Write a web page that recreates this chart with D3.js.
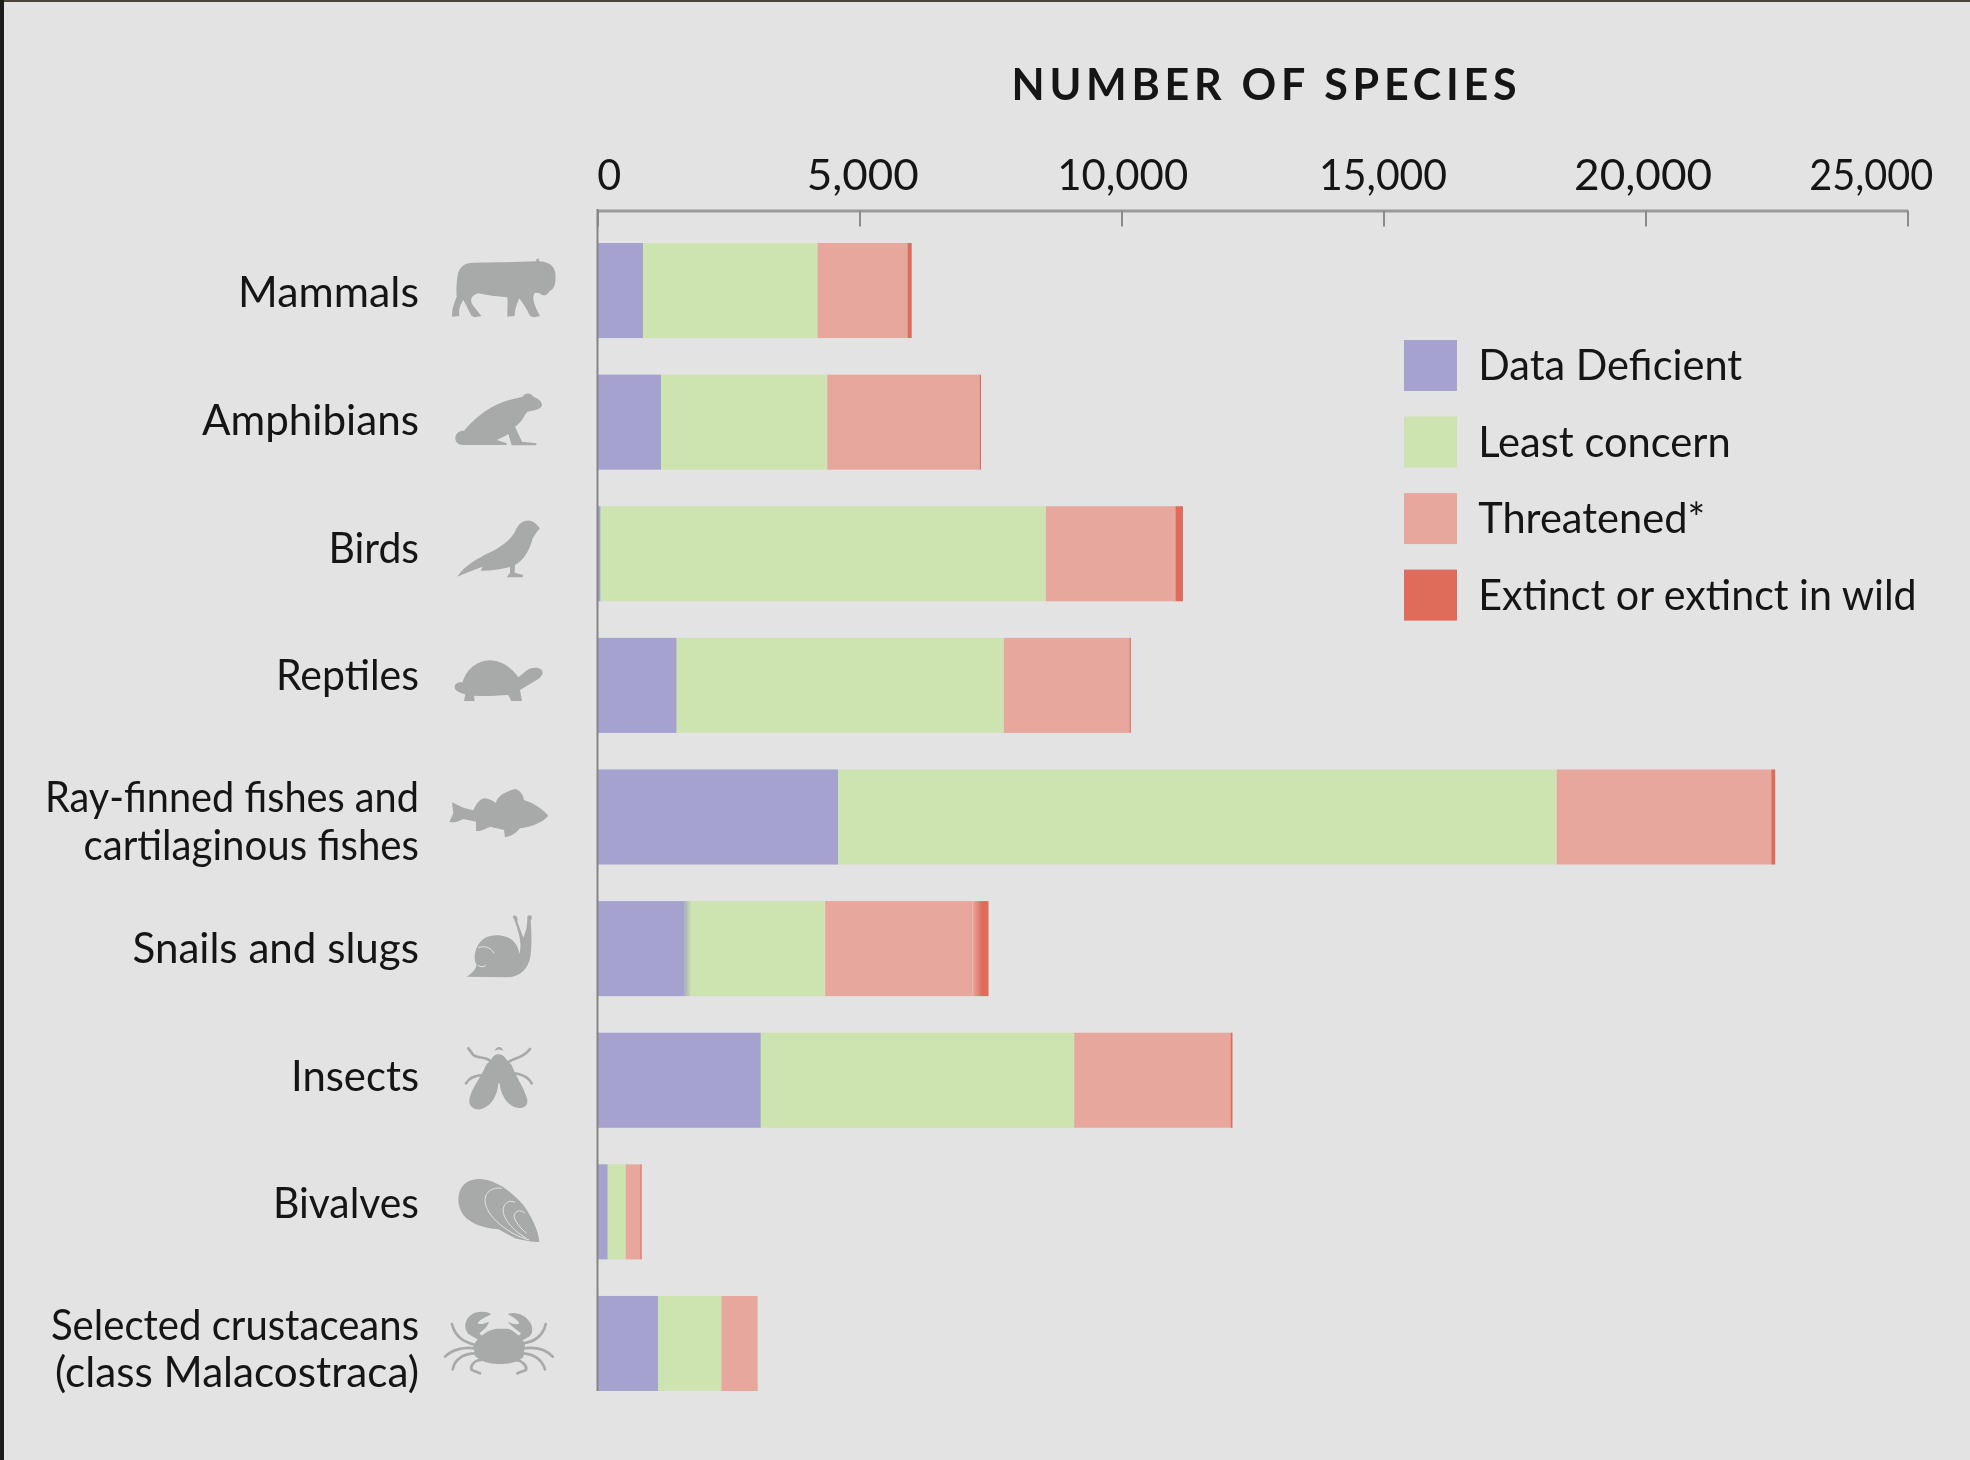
<!DOCTYPE html>
<html><head><meta charset="utf-8">
<script src="https://cdnjs.cloudflare.com/ajax/libs/d3/7.8.5/d3.min.js"></script>
<style>
html,body{margin:0;padding:0;background:#e3e3e3;}
svg{display:block;position:absolute;left:0;top:0;}
text{font-family:Lato,sans-serif;fill:#151515;}
</style></head><body>
<svg id="c" width="1970" height="1460"></svg>
<script>
const categories=["Mammals","Amphibians","Birds","Reptiles","Ray-finned fishes and cartilaginous fishes","Snails and slugs","Insects","Bivalves","Selected crustaceans (class Malacostraca)"];
const labelLines=[["Mammals"],["Amphibians"],["Birds"],["Reptiles"],["Ray-finned fishes and","cartilaginous fishes"],["Snails and slugs"],["Insects"],["Bivalves"],["Selected crustaceans","(class Malacostraca)"]];
const dataDeficient=[868,1215,60,1511,4590,1655,3117,196,1157];
const leastConcern=[3332,3170,8496,6243,13715,2690,5981,341,1208];
const threatened=[1716,2907,2474,2399,4095,2813,2984,280,681];
const extinct=[80,26,143,25,75,304,36,25,5];
const seriesNames=["Data Deficient","Least concern","Threatened*","Extinct or extinct in wild"];
const seriesColors=["#a5a2d0","#cde3b0","#e8a79d","#df6b5a"];
const tickValues=[0,5000,10000,15000,20000,25000];

const svg=d3.select("#c");
const defs=svg.append("defs");
const g1=defs.append("linearGradient").attr("id","lcEdge");
g1.append("stop").attr("offset",0).attr("stop-color","#a9aabb");
g1.append("stop").attr("offset",0.05).attr("stop-color",seriesColors[1]);
const g2=defs.append("linearGradient").attr("id","exEdge");
g2.append("stop").attr("offset",0).attr("stop-color",seriesColors[2]);
g2.append("stop").attr("offset",0.6).attr("stop-color",seriesColors[3]);
svg.append("rect").attr("width",1970).attr("height",2).attr("fill","#4a443f");
svg.append("rect").attr("width",4).attr("height",1460).attr("fill","#1c1c1c");
const g=svg.append("g").style("filter","blur(0.6px)");

const x=d3.scaleLinear().domain([0,25000]).range([597.5,1907.5]);
const y=d3.scaleBand().domain(categories).range([243,1391]).paddingInner(0.278).paddingOuter(0);

const rows=categories.map((c,i)=>({c,a:dataDeficient[i],b:leastConcern[i],t:threatened[i],e:extinct[i]}));
const stack=d3.stack().keys(["a","b","t","e"])(rows);
const snail=categories[5];
g.selectAll("g.s").data(stack).join("g").attr("class","s").attr("fill",(d,i)=>seriesColors[i])
 .selectAll("rect").data(d=>d.map(v=>Object.assign(v,{key:d.key}))).join("rect")
 .attr("x",d=>x(d[0])).attr("width",d=>x(d[1])-x(d[0]))
 .attr("y",d=>y(d.data.c)).attr("height",y.bandwidth())
 .attr("fill",d=>d.data.c===snail&&d.key==="b"?"url(#lcEdge)":d.data.c===snail&&d.key==="e"?"url(#exEdge)":null);

// axis
const ax=g.append("g").attr("transform","translate(0,210.5)")
 .call(d3.axisTop(x).tickValues(tickValues).tickFormat(d3.format(",")).tickSizeOuter(0));
ax.select(".domain").attr("stroke","#9a9a9a").attr("stroke-width",3);
ax.selectAll(".tick line").attr("y2",16).attr("stroke","#8a8a8a").attr("stroke-width",2);
const tickDx={0:11.2,5000:2.7,10000:0.7,15000:-0.9,20000:-2.9,25000:-36.7};
const tickW={0:24,5000:112,10000:131,15000:128,20000:138,25000:124};
ax.selectAll(".tick text").attr("y",-21).attr("dy",0).attr("dx",d=>tickDx[d])
 .attr("font-family","Lato,sans-serif").attr("font-size",42).attr("fill","#151515")
 .attr("textLength",d=>tickW[d]).attr("lengthAdjust","spacingAndGlyphs");
g.append("line").attr("x1",x(0)).attr("x2",x(0)).attr("y1",209).attr("y2",1391).attr("stroke","#858585").attr("stroke-width",2);

g.append("text").attr("x",1264).attr("y",100).attr("text-anchor","middle").attr("font-size",43).attr("font-weight",700)
 .attr("textLength",505).attr("lengthAdjust","spacing").text("NUMBER OF SPECIES");

// category labels
const baselines=[[307.2],[434.7],[562.7],[689.7],[812.2,859.7],[962.7],[1090.7],[1218.2],[1340.2,1386.7]];
const labelWidths=[[181],[217],[90.5],[143],[374,335.5],[286.5],[128],[146],[368,364]];
g.selectAll("text.cat").data(labelLines.flatMap((l,i)=>l.map((t,j)=>({t,b:baselines[i][j],w:labelWidths[i][j]})))).join("text").attr("class","cat")
 .attr("x",419).attr("y",d=>d.b).attr("text-anchor","end").attr("font-size",42)
 .attr("textLength",d=>d.w).attr("lengthAdjust","spacingAndGlyphs").text(d=>d.t);

// legend
const legendWidths=[264,252.5,227,438.5];
const lg=d3.scalePoint().domain(seriesNames).range([340,569.6]);
const L=g.selectAll("g.l").data(seriesNames).join("g").attr("class","l").attr("transform",d=>`translate(1404,${lg(d)})`);
L.append("rect").attr("width",53).attr("height",51).attr("fill",(d,i)=>seriesColors[i]);
L.append("text").attr("x",74.2).attr("y",40).attr("font-size",42)
 .attr("textLength",(d,i)=>legendWidths[i]).attr("lengthAdjust","spacingAndGlyphs").text(d=>d);

// icons (silhouettes, drawn in crop coordinates at 3x)
const iconFill="#a8a9a9", bg="#e3e3e3";
const icons=[
 {o:[430,240],f:["M66 226C66 205 72 190 80 170C78 150 80 120 84 100C90 80 105 68 130 68C190 68 260 66 318 64L320 56L326 56L328 64C350 66 372 72 376 100C378 125 376 145 360 152C350 168 338 170 330 160L315 158C305 170 310 190 330 228L312 232L300 228C290 205 278 190 268 175C262 190 254 205 254 228L232 230C232 205 234 185 232 172C200 170 170 166 145 160C125 165 118 180 128 195L154 228L135 232L125 228C115 210 108 195 100 180C90 195 85 210 88 228L66 230Z"]},
 {o:[440,380],f:["M46 175C46 160 58 152 72 152C100 120 140 85 180 70C205 58 230 55 248 50C255 38 270 38 278 48C290 55 306 62 306 75C305 88 280 92 262 95C252 105 248 125 225 140L246 185L290 190L288 196L215 196L205 162C195 170 180 175 170 180L200 190L200 195L70 195C55 195 46 188 46 175Z"]},
 {o:[440,510],f:["M52 200C70 170 110 145 160 122C190 105 210 90 225 65C235 40 250 30 270 32C285 35 295 48 300 55C290 65 285 75 278 85C270 115 255 150 225 165L224 188L250 195L248 202L200 202L210 188L210 170C185 178 150 182 122 182L128 170C100 180 75 190 52 200Z"]},
 {o:[440,645],f:["M44 125C45 115 55 110 68 112C75 85 100 48 150 46C190 46 220 75 235 97L262 75C275 68 295 65 305 75C312 85 305 97 290 105L240 135L246 168L214 168L205 150C170 152 130 155 102 152L104 168L72 168L76 148C58 142 44 138 44 125Z"]},
 {o:[440,775],f:["M28 140L40 115L36 82L70 98L100 106C108 88 120 70 135 70C148 72 160 78 168 84C170 65 195 50 225 42C240 45 250 60 252 75C285 85 310 105 325 122C310 140 280 155 240 160C230 172 215 185 195 187L192 165L150 155C140 160 120 170 108 168L108 140L70 132C55 140 40 145 28 140Z"]},
 {o:[450,905],f:["M50 215C65 205 76 195 80 180C68 160 74 122 100 102C125 85 170 88 192 110C203 122 207 135 207 148C216 125 212 95 192 42C186 35 190 30 197 32C205 38 203 45 202 50L220 98C228 80 232 60 232 40C230 32 238 28 244 32C248 40 242 45 242 50C245 85 246 125 241 155C235 190 210 217 170 217Z"],
  b:["M85 128C100 122 122 125 132 145","M84 180C92 188 100 185 108 182"]},
 {o:[450,905],f:["M125 462C132 443 158 443 168 462L185 480C200 520 224 550 232 585C234 607 215 614 193 606C170 597 152 570 149 535L145 535C143 570 125 602 95 612C73 617 56 606 58 585C63 550 92 520 108 480Z","M134 438C140 422 155 422 160 438C150 432 142 432 134 438Z"],
  s:["M125 470C105 452 85 462 70 450L55 430","M170 475C190 455 215 465 240 432","M105 510C85 510 60 515 48 535","M190 505C210 505 235 515 245 535"]},
 {o:[440,1170],f:["M55 90C55 50 80 25 120 27C170 30 215 65 250 105C275 140 295 180 298 215C280 218 245 210 225 205L175 178C130 175 90 160 70 135C60 120 55 105 55 90Z"],
  b:["M268 210C210 195 135 140 135 90C135 65 160 50 185 55","M260 205C215 180 185 140 190 115C195 95 210 90 225 97","M260 190C235 170 215 140 225 130C232 120 245 120 255 130"]},
 {o:[440,1170],f:["M100 525C122 492 150 478 170 476L205 476C232 488 250 508 255 525L250 562C228 580 205 582 175 582C145 582 122 574 105 558Z","M85 492C66 470 78 438 105 428C125 423 152 426 152 434C137 441 122 446 112 460C122 465 135 460 147 455C142 472 127 482 118 490L134 506L120 512Z","M203 432C225 423 257 433 272 460C280 476 277 492 267 500L245 512L232 502L243 490C230 480 216 470 203 455C218 462 232 465 238 460C230 445 215 440 203 432Z"],
  s:["M105 525C70 515 45 500 36 462","M105 535C70 530 35 540 15 560","M105 550C75 550 45 565 38 598","M125 570C100 570 90 590 95 600L120 610","M250 520C285 515 310 495 317 462","M250 535C290 530 320 540 338 560","M245 550C275 550 305 565 315 598","M225 570C250 572 262 590 258 600L232 610"]}
];
const ic=g.selectAll("g.icon").data(icons).join("g").attr("class","icon").attr("transform",d=>`translate(${d.o[0]},${d.o[1]}) scale(${1/3})`);
ic.each(function(d){
 const s=d3.select(this);
 (d.f||[]).forEach(p=>s.append("path").attr("d",p).attr("fill",iconFill));
 (d.s||[]).forEach(p=>s.append("path").attr("d",p).attr("fill","none").attr("stroke",iconFill).attr("stroke-width",8).attr("stroke-linecap","round"));
 (d.b||[]).forEach(p=>s.append("path").attr("d",p).attr("fill","none").attr("stroke",bg).attr("stroke-width",3));
});
</script></body></html>
